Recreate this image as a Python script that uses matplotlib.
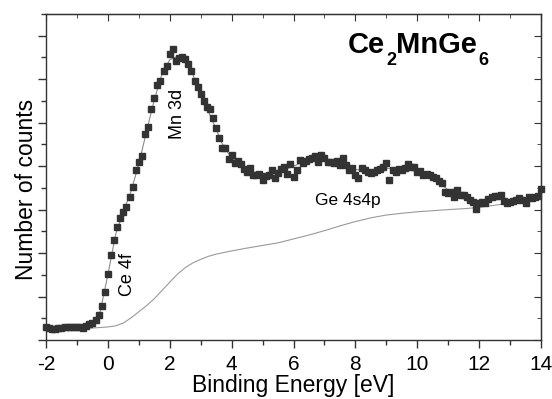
import numpy as np
import matplotlib.pyplot as plt
import matplotlib as mpl

plt.rcParams['font.family'] = ['Liberation Sans', 'DejaVu Sans']
plt.rcParams['axes.unicode_minus'] = False

# measured points (binding energy in eV, counts in arb. units)
energy = [
    -2.0, -1.9, -1.8, -1.7, -1.6, -1.5, -1.4, -1.3, -1.2, -1.1,
    -1.0, -0.9, -0.8, -0.7, -0.6, -0.5, -0.4, -0.3, -0.2, -0.1,
    0.0, 0.1, 0.2, 0.3, 0.4, 0.5, 0.6, 0.7, 0.8, 0.9,
    1.0, 1.1, 1.2, 1.3, 1.4, 1.5, 1.6, 1.7, 1.8, 1.9,
    2.0, 2.1, 2.2, 2.3, 2.4, 2.5, 2.6, 2.7, 2.8, 2.9,
    3.0, 3.1, 3.2, 3.3, 3.4, 3.5, 3.6, 3.7, 3.8, 3.9,
    4.0, 4.1, 4.2, 4.3, 4.4, 4.5, 4.6, 4.7, 4.8, 4.9,
    5.0, 5.1, 5.2, 5.3, 5.4, 5.5, 5.6, 5.7, 5.8, 5.9,
    6.0, 6.1, 6.2, 6.3, 6.4, 6.5, 6.6, 6.7, 6.8, 6.9,
    7.0, 7.1, 7.2, 7.3, 7.4, 7.5, 7.6, 7.7, 7.8, 7.9,
    8.0, 8.1, 8.2, 8.3, 8.4, 8.5, 8.6, 8.7, 8.8, 8.9,
    9.0, 9.1, 9.2, 9.3, 9.4, 9.5, 9.6, 9.7, 9.8, 9.9,
    10.0, 10.1, 10.2, 10.3, 10.4, 10.5, 10.6, 10.7, 10.8, 10.9,
    11.0, 11.1, 11.2, 11.3, 11.4, 11.5, 11.6, 11.7, 11.8, 11.9,
    12.0, 12.1, 12.2, 12.3, 12.4, 12.5, 12.6, 12.7, 12.8, 12.9,
    13.0, 13.1, 13.2, 13.3, 13.4, 13.5, 13.6, 13.7, 13.8, 13.9,
    14.0,
]
counts = [
    0.58, 0.55, 0.52, 0.50, 0.55, 0.57, 0.58, 0.60, 0.58, 0.60,
    0.62, 0.58, 0.55, 0.65, 0.72, 0.80, 0.90, 1.15, 1.55, 2.20,
    3.05, 3.90, 4.60, 5.18, 5.60, 5.90, 6.14, 6.60, 7.06, 7.82,
    8.18, 8.47, 9.48, 9.82, 10.63, 11.12, 11.73, 11.93, 12.39, 12.60,
    13.16, 13.38, 12.85, 12.96, 13.04, 12.92, 12.69, 12.40, 11.92, 11.63,
    11.32, 11.00, 10.71, 10.63, 10.20, 9.74, 9.31, 8.82, 8.82, 8.31,
    8.51, 8.13, 8.25, 8.10, 7.86, 7.75, 7.90, 7.59, 7.59, 7.64,
    7.36, 7.55, 7.59, 7.82, 7.44, 7.67, 7.86, 7.95, 7.64, 8.10,
    7.52, 7.82, 8.28, 8.13, 8.25, 8.31, 8.36, 8.47, 8.21, 8.51,
    8.36, 8.21, 8.21, 8.16, 8.25, 8.05, 8.36, 8.05, 7.82, 7.90,
    7.59, 7.44, 7.90, 7.82, 7.75, 7.67, 7.75, 7.82, 7.86, 7.95,
    8.13, 7.36, 7.82, 7.75, 7.86, 7.80, 7.90, 8.10, 7.98, 7.95,
    7.75, 7.79, 7.60, 7.64, 7.60, 7.49, 7.44, 7.33, 7.21, 6.83,
    6.78, 6.83, 6.60, 6.90, 6.67, 6.67, 6.60, 6.45, 6.37, 6.01,
    6.29, 6.37, 6.32, 6.47, 6.56, 6.63, 6.63, 6.67, 6.41, 6.29,
    6.37, 6.41, 6.44, 6.52, 6.45, 6.29, 6.56, 6.52, 6.56, 6.63,
    6.94,
]

# fitted envelope
fit_energy = [
    -2.0, -1.75, -1.5, -1.25, -1.0, -0.75, -0.5, -0.25, 0.0, 0.25,
    0.5, 0.75, 1.0, 1.25, 1.5, 1.75, 2.0, 2.25, 2.5, 2.75,
    3.0, 3.25, 3.5, 3.75, 4.0, 4.25, 4.5, 4.75, 5.0, 5.25,
    5.5, 5.75, 6.0, 6.25, 6.5, 6.75, 7.0, 7.25, 7.5, 7.75,
    8.0, 8.25, 8.5, 8.75, 9.0, 9.25, 9.5, 9.75, 10.0, 10.25,
    10.5, 10.75, 11.0, 11.25, 11.5, 11.75, 12.0, 12.25, 12.5, 12.75,
    13.0, 13.25, 13.5, 13.75, 14.0,
]
fit_counts = [
    0.55, 0.55, 0.56, 0.57, 0.58, 0.62, 0.78, 1.30, 3.00, 4.85,
    5.90, 6.85, 8.10, 9.60, 11.05, 12.25, 12.90, 13.05, 12.90, 12.20,
    11.25, 10.50, 9.70, 8.85, 8.40, 8.10, 7.85, 7.70, 7.60, 7.60,
    7.70, 7.85, 8.00, 8.15, 8.30, 8.38, 8.35, 8.25, 8.15, 8.00,
    7.85, 7.80, 7.80, 7.85, 7.90, 7.90, 7.90, 7.92, 7.85, 7.65,
    7.45, 7.20, 6.90, 6.75, 6.60, 6.45, 6.35, 6.40, 6.55, 6.50,
    6.40, 6.45, 6.45, 6.55, 6.65,
]

# background under the spectrum
bg_energy = [-2.0, -1.0, -0.5, 0.0, 0.25, 0.5, 0.75, 1.0, 1.25, 1.5,
             1.75, 2.0, 2.25, 2.5, 2.75, 3.0, 3.25, 3.5, 4.0, 4.5,
             5.0, 5.5, 6.0, 6.5, 7.0, 7.5, 8.0, 8.5, 9.0, 9.5,
             10.0, 10.5, 11.0, 11.5, 12.0, 13.0, 14.0]
bg_counts = [0.55, 0.55, 0.55, 0.60, 0.65, 0.78, 1.02, 1.30, 1.58, 1.90,
             2.28, 2.66, 3.03, 3.33, 3.55, 3.71, 3.85, 3.95, 4.10, 4.23,
             4.35, 4.47, 4.65, 4.83, 5.03, 5.25, 5.45, 5.62, 5.75, 5.83,
             5.90, 5.95, 6.00, 6.04, 6.10, 6.30, 6.50]


def formula_label(ax, x, y, parts, size=21, sub_size=13, sub_drop=8.6):
    # chemical formula written piece by piece so the subscripts sit low
    prev = ax.text(x, y, parts[0], transform=ax.transAxes, fontsize=size,
                   fontweight='bold', ha='left', va='baseline')
    for i, part in enumerate(parts[1:]):
        is_sub = (i % 2 == 0)
        prev = ax.annotate(part, xy=(1, y), xycoords=(prev, 'axes fraction'),
                           xytext=(0.6 if is_sub else 0.3, -sub_drop if is_sub else 0),
                           textcoords='offset points',
                           fontsize=sub_size if is_sub else size,
                           fontweight='bold', ha='left', va='baseline')


def plot_spectrum():
    fig = plt.figure(figsize=(5.52, 3.99), dpi=100)
    ax = fig.add_axes([46 / 552, 1 - 340 / 399, 495 / 552, 326 / 399])

    ax.plot(bg_energy, bg_counts, color='#9a9a9a', lw=0.8, zorder=1)
    ax.plot(fit_energy, fit_counts, color='#8a8a8a', lw=0.8, zorder=2)
    ax.plot(energy, counts, ls='none', marker='s', ms=4.0,
            color='#333333', mec='#333333', zorder=3, clip_on=False)

    ax.set_xlim(-2, 14)
    ax.set_ylim(0, 15)
    ax.xaxis.set_major_locator(mpl.ticker.MultipleLocator(2))
    ax.xaxis.set_minor_locator(mpl.ticker.MultipleLocator(1))
    ax.yaxis.set_major_locator(mpl.ticker.MultipleLocator(2))
    ax.yaxis.set_minor_locator(mpl.ticker.MultipleLocator(1))
    ax.tick_params(which='both', direction='out', top=False, right=False,
                   labelleft=False, color='#333333', width=1)
    ax.tick_params(which='major', length=6, labelsize=15, pad=5)
    ax.tick_params(which='minor', length=3.5)

    # mirrored ticks pointing inward on top and right
    sec_x = ax.secondary_xaxis('top')
    sec_x.xaxis.set_major_locator(mpl.ticker.MultipleLocator(2))
    sec_x.xaxis.set_minor_locator(mpl.ticker.MultipleLocator(1))
    sec_x.tick_params(which='both', direction='in', labeltop=False, color='#333333')
    sec_x.tick_params(which='major', length=5)
    sec_x.tick_params(which='minor', length=3)
    sec_y = ax.secondary_yaxis('right')
    sec_y.yaxis.set_major_locator(mpl.ticker.MultipleLocator(2))
    sec_y.yaxis.set_minor_locator(mpl.ticker.MultipleLocator(1))
    sec_y.tick_params(which='both', direction='in', labelright=False, color='#333333')
    sec_y.tick_params(which='major', length=5)
    sec_y.tick_params(which='minor', length=3)

    for sp in ax.spines.values():
        sp.set_color('#333333')
        sp.set_linewidth(1)

    ax.set_xlabel('Binding Energy [eV]', fontsize=16.5, labelpad=0)
    ax.set_ylabel('Number of counts', fontsize=16.5)
    ax.yaxis.set_label_coords(-0.016, 0.463)

    formula_label(ax, 0.61, 0.88, ['Ce', '2', 'MnGe', '6'])
    ax.text(2.25, 10.4, 'Mn 3d', rotation=90, fontsize=13, ha='center', va='center')
    ax.text(0.65, 3.0, 'Ce 4f', rotation=90, fontsize=13, ha='center', va='center')
    ax.text(7.75, 6.4, 'Ge 4s4p', fontsize=12.5, ha='center', va='center')

    plt.savefig('out.png', dpi=100)


def main():
    plot_spectrum()


main()
